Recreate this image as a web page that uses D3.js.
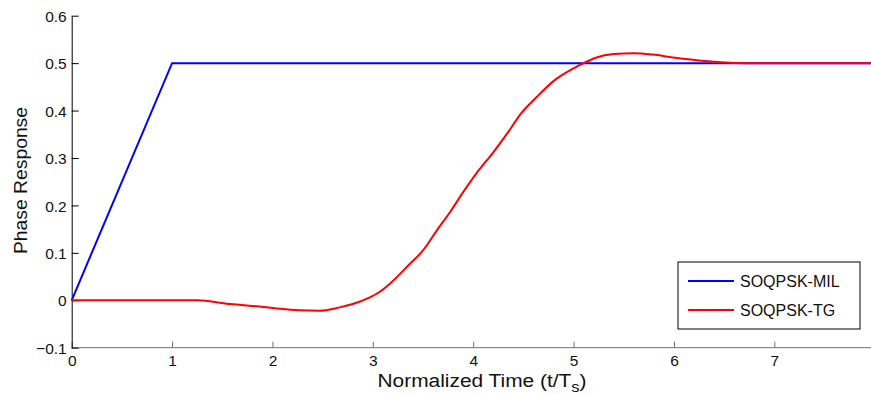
<!DOCTYPE html>
<html>
<head>
<meta charset="utf-8">
<script src="https://cdn.jsdelivr.net/npm/d3@7"></script>
<style>
  html, body { margin: 0; padding: 0; background: #fff; }
  svg { display: block; font-family: "Liberation Sans", Arial, sans-serif; }
</style>
</head>
<body>
<svg id="chart" width="871" height="394"></svg>
<script>
// Phase response q(t) of the two SOQPSK variants versus normalized time t/Ts
const milTime  = [0, 1, 8];
const milPhase = [0, 0.5, 0.5];

const tgTime  = [0, 1.25, 1.58, 1.91, 2.08, 2.27, 2.47, 2.67, 2.80, 2.97, 3.07, 3.17, 3.37, 3.50, 3.64,
                 3.77, 3.90, 4.03, 4.20, 4.35, 4.47, 4.63, 4.80, 5.00, 5.10, 5.23, 5.40, 5.60, 5.79,
                 5.99, 6.19, 6.39, 6.56, 6.75, 8];
const tgPhase = [0, 0, -0.008, -0.014, -0.018, -0.021, -0.022, -0.015, -0.008, 0.006, 0.018, 0.035, 0.077, 0.105, 0.148,
                 0.186, 0.228, 0.267, 0.312, 0.355, 0.392, 0.428, 0.462, 0.489, 0.500, 0.512, 0.519, 0.521, 0.518,
                 0.512, 0.507, 0.503, 0.501, 0.500, 0.5];

const seriesNames  = ["SOQPSK-MIL", "SOQPSK-TG"];
const seriesColors = ["#0000ff", "#ff0000"];
const xTicks = [0, 1, 2, 3, 4, 5, 6, 7];
const yTicks = [-0.1, 0, 0.1, 0.2, 0.3, 0.4, 0.5, 0.6];

const svg = d3.select("#chart");
const plotLeft = 71.7, plotRight = 874.7, plotTop = 15.7, plotBottom = 347.7;

const x = d3.scaleLinear().domain([0, 8]).range([plotLeft, plotRight]);
const y = d3.scaleLinear().domain([-0.1, 0.6]).range([plotBottom, plotTop]);

const fmtY = v => (Math.abs(v) < 1e-9 ? "0" : d3.format(".1f")(v));

// bottom axis (ticks point inward)
const xAxis = svg.append("g")
  .attr("transform", `translate(0,${plotBottom})`)
  .call(d3.axisBottom(x).tickValues(xTicks).tickSize(-6).tickSizeOuter(0).tickFormat(d3.format("d")));
xAxis.select(".domain").attr("stroke", "#6e6e6e").attr("d", `M${plotLeft},0H871`);
xAxis.selectAll(".tick line").attr("stroke", "#6e6e6e");
xAxis.selectAll(".tick text").attr("font-size", 15.5).attr("fill", "#111").attr("dy", 0).attr("y", 18.5);

// left axis
const yAxis = svg.append("g")
  .attr("transform", `translate(${plotLeft},0)`)
  .call(d3.axisLeft(y).tickValues(yTicks).tickSize(-7).tickSizeOuter(0).tickFormat(fmtY));
yAxis.select(".domain").attr("stroke", "#000");
yAxis.selectAll(".tick line").attr("stroke", "#000");
yAxis.selectAll(".tick text").attr("font-size", 15.5).attr("fill", "#111").attr("x", -5).attr("dy", "0.36em");

// data lines
const line = d3.line().x(d => x(d[0])).y(d => y(d[1]));
const smooth = d3.line().curve(d3.curveMonotoneX).x(d => x(d[0])).y(d => y(d[1]));
const plot = svg.append("g");
plot.append("path")
  .datum(d3.zip(milTime, milPhase))
  .attr("d", line).attr("fill", "none").attr("stroke", seriesColors[0]).attr("stroke-width", 2);
plot.append("path")
  .datum(d3.zip(tgTime, tgPhase))
  .attr("d", smooth).attr("fill", "none").attr("stroke", seriesColors[1]).attr("stroke-width", 2);

// axis titles
svg.append("text")
  .attr("transform", "translate(27,180.5) rotate(-90)")
  .attr("text-anchor", "middle").attr("font-size", 18).attr("fill", "#111")
  .attr("textLength", 147).attr("lengthAdjust", "spacingAndGlyphs")
  .text("Phase Response");

const xl = svg.append("text")
  .attr("transform", "translate(482,387) scale(1.1,1)")
  .attr("text-anchor", "middle").attr("font-size", 19).attr("fill", "#111");
xl.append("tspan").text("Normalized Time (t/T");
xl.append("tspan").attr("font-size", 15).attr("dy", 5).text("s");
xl.append("tspan").attr("dy", -5).text(")");

// legend
const lg = svg.append("g").attr("transform", "translate(678,262)");
lg.append("rect").attr("width", 182).attr("height", 67)
  .attr("fill", "#fff").attr("stroke", "#000").attr("stroke-width", 1);
seriesNames.forEach((name, i) => {
  const yy = 19 + i * 29;
  lg.append("line").attr("x1", 10).attr("x2", 56).attr("y1", yy).attr("y2", yy)
    .attr("stroke", seriesColors[i]).attr("stroke-width", 2);
  lg.append("text").attr("x", 62).attr("y", yy).attr("dy", "0.36em")
    .attr("font-size", 16).attr("fill", "#111").text(name);
});
</script>
</body>
</html>
